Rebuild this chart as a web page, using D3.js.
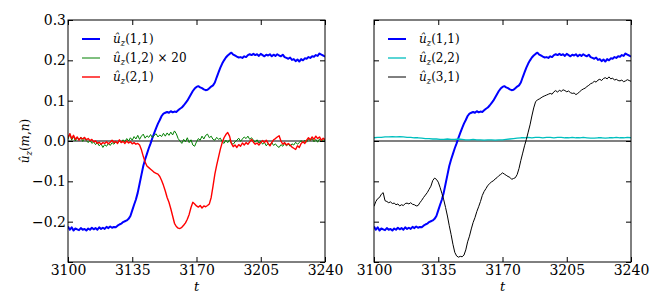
<!DOCTYPE html>
<html>
<head>
<meta charset="utf-8">
<script src="https://cdn.jsdelivr.net/npm/d3@7"></script>
<style>
  body { margin: 0; background: #fff; }
  svg { display: block; }
</style>
</head>
<body>
<div id="chart"></div>
<script>
// sampled time axis: t = tStart + i * step
const tStart = 3100;
const xTicks = [3100, 3135, 3170, 3205, 3240];
const yTicks = [-0.3, -0.2, -0.1, 0.0, 0.1, 0.2, 0.3];

// u_z(1,1), step 1
const u11 = [
  -0.212, -0.220, -0.214, -0.222, -0.217, -0.219, -0.221, -0.216, -0.220, -0.218,
  -0.222, -0.217, -0.220, -0.215, -0.219, -0.216, -0.220, -0.214, -0.218, -0.215,
  -0.218, -0.213, -0.216, -0.212, -0.215, -0.213, -0.214, -0.210, -0.207, -0.205,
  -0.201, -0.199, -0.197, -0.193, -0.186, -0.172, -0.158, -0.145, -0.128, -0.106,
  -0.084, -0.062, -0.046, -0.032, -0.018, -0.006, 0.008, 0.020, 0.032, 0.043,
  0.052, 0.062, 0.068, 0.070, 0.072, 0.070, 0.074, 0.071, 0.073, 0.072,
  0.076, 0.080, 0.083, 0.088, 0.094, 0.100, 0.108, 0.116, 0.124, 0.130,
  0.134, 0.136, 0.133, 0.131, 0.128, 0.126, 0.127, 0.131, 0.135, 0.138,
  0.145, 0.158, 0.170, 0.182, 0.192, 0.200, 0.207, 0.212, 0.216, 0.219,
  0.214, 0.212, 0.209, 0.207, 0.208, 0.206, 0.210, 0.208, 0.213, 0.215,
  0.213, 0.216, 0.213, 0.215, 0.211, 0.216, 0.213, 0.210, 0.214, 0.212,
  0.215, 0.210, 0.214, 0.211, 0.215, 0.212, 0.210, 0.214, 0.208, 0.206,
  0.204, 0.207, 0.201, 0.203, 0.198, 0.202, 0.197, 0.203, 0.200, 0.205,
  0.204, 0.208, 0.206, 0.210, 0.209, 0.213, 0.211, 0.217, 0.214, 0.212,
  0.209
];

// u_z(1,2) x 20, step 1
const u12x20 = [
  0.004, 0.018, 0.002, 0.012, 0.000, 0.009, 0.003, 0.010, -0.001, 0.006,
  0.001, -0.004, 0.002, -0.006, -0.002, -0.009, -0.004, -0.012, -0.007, -0.016,
  -0.009, -0.013, -0.006, -0.011, -0.004, -0.008, -0.002, -0.006, 0.001, -0.004,
  0.003, -0.002, 0.006, 0.000, 0.008, 0.002, 0.011, 0.005, 0.014, 0.004,
  0.012, 0.017, 0.007, 0.013, 0.009, 0.016, 0.008, 0.014, 0.018, 0.010,
  0.015, 0.011, 0.019, 0.012, 0.020, 0.014, 0.022, 0.015, 0.025, 0.018,
  0.006, 0.000, -0.006, 0.004, -0.002, 0.008, -0.004, 0.003, -0.010, -0.013,
  -0.002, 0.006, 0.002, 0.012, 0.005, 0.014, 0.017, 0.008, 0.012, 0.004,
  0.002, 0.009, 0.004, 0.007, -0.002, -0.006, 0.002, -0.004, 0.003, -0.006,
  -0.008, -0.002, 0.002, 0.007, -0.001, 0.005, 0.010, 0.006, 0.012, 0.004,
  0.008, 0.002, -0.003, 0.003, -0.005, 0.000, -0.008, -0.003, -0.012, -0.006,
  -0.010, -0.004, -0.011, -0.007, -0.013, -0.016, -0.009, -0.013, -0.006, -0.012,
  -0.008, -0.013, -0.007, -0.010, -0.003, -0.008, -0.004, 0.001, -0.005, 0.002,
  -0.003, 0.005, 0.001, 0.006, -0.002, 0.004, -0.003, 0.005, 0.000, 0.003,
  0.001
];

// u_z(2,1), step 1
const u21 = [
  0.008, 0.018, 0.006, 0.014, 0.004, 0.010, 0.002, 0.008, 0.005, 0.009,
  0.003, 0.006, 0.001, 0.004, -0.002, 0.000, -0.006, -0.003, -0.008, -0.004,
  -0.006, -0.002, -0.007, -0.003, 0.002, -0.004, -0.001, -0.006, 0.003, -0.004,
  -0.001, -0.006, 0.000, -0.005, -0.002, -0.007, -0.004, -0.008, -0.006, -0.010,
  -0.022, -0.038, -0.052, -0.062, -0.066, -0.070, -0.074, -0.078, -0.080, -0.082,
  -0.088, -0.098, -0.110, -0.124, -0.140, -0.152, -0.168, -0.186, -0.204, -0.212,
  -0.216, -0.217, -0.214, -0.209, -0.203, -0.194, -0.182, -0.165, -0.152, -0.156,
  -0.161, -0.164, -0.160, -0.166, -0.161, -0.163, -0.160, -0.156, -0.140, -0.112,
  -0.082, -0.060, -0.040, -0.020, -0.004, 0.008, 0.016, 0.021, 0.012, -0.006,
  -0.014, -0.010, -0.016, -0.009, -0.013, -0.005, -0.010, -0.004, -0.008, -0.002,
  0.004, -0.003, -0.008, -0.005, -0.010, -0.004, 0.001, -0.004, 0.002, -0.006,
  -0.012, -0.004, 0.003, 0.006, 0.010, 0.013, 0.000, -0.008, -0.004, -0.010,
  -0.006, -0.010, -0.015, -0.018, -0.021, -0.012, -0.016, -0.006, -0.002, -0.006,
  0.002, 0.008, 0.003, 0.010, 0.004, 0.012, 0.006, 0.010, 0.002, 0.007,
  0.003
];

// u_z(2,2), step 2
const u22 = [
  0.008, 0.009, 0.009, 0.010, 0.010, 0.011, 0.010, 0.011, 0.010, 0.009,
  0.009, 0.008, 0.008, 0.007, 0.006, 0.006, 0.005, 0.005, 0.004, 0.004,
  0.005, 0.004, 0.004, 0.005, 0.004, 0.003, 0.003, 0.004, 0.003, 0.003,
  0.002, 0.003, 0.003, 0.002, 0.003, 0.003, 0.004, 0.005, 0.006, 0.007,
  0.008, 0.008, 0.009, 0.008, 0.009, 0.009, 0.008, 0.009, 0.009, 0.008,
  0.009, 0.009, 0.008, 0.008, 0.009, 0.008, 0.008, 0.009, 0.008, 0.007,
  0.007, 0.008, 0.008, 0.007, 0.008, 0.008, 0.009, 0.008, 0.008, 0.009,
  0.008
];

// u_z(3,1), step 1
const u31 = [
  -0.162, -0.150, -0.143, -0.140, -0.132, -0.128, -0.148, -0.150, -0.153, -0.151,
  -0.155, -0.154, -0.158, -0.156, -0.161, -0.158, -0.160, -0.155, -0.154, -0.156,
  -0.153, -0.157, -0.158, -0.161, -0.160, -0.153, -0.147, -0.140, -0.134, -0.128,
  -0.120, -0.112, -0.098, -0.092, -0.095, -0.102, -0.115, -0.130, -0.146, -0.165,
  -0.186, -0.210, -0.232, -0.256, -0.276, -0.285, -0.288, -0.286, -0.287, -0.283,
  -0.270, -0.250, -0.236, -0.218, -0.202, -0.190, -0.175, -0.163, -0.150, -0.135,
  -0.125, -0.118, -0.110, -0.106, -0.101, -0.099, -0.094, -0.091, -0.086, -0.083,
  -0.079, -0.082, -0.085, -0.088, -0.090, -0.095, -0.093, -0.091, -0.083, -0.068,
  -0.048, -0.030, -0.012, 0.004, 0.022, 0.040, 0.062, 0.082, 0.097, 0.102,
  0.104, 0.107, 0.110, 0.112, 0.114, 0.116, 0.118, 0.116, 0.122, 0.125,
  0.121, 0.126, 0.123, 0.127, 0.125, 0.122, 0.124, 0.120, 0.118, 0.119,
  0.115, 0.118, 0.122, 0.126, 0.129, 0.131, 0.135, 0.138, 0.142, 0.144,
  0.148, 0.146, 0.151, 0.153, 0.150, 0.155, 0.157, 0.154, 0.159, 0.154,
  0.156, 0.151, 0.153, 0.150, 0.149, 0.151, 0.147, 0.149, 0.152, 0.150,
  0.148
];

const W = 664, H = 304;
const plotTop = 20, plotH = 242, plotW = 257;
const FONT = "DejaVu Serif";
const tickFont = 14, legendFont = 12;

const panels = [
  {
    left: 68, yLabels: true,
    series: [
      { name: ["(1,1)", ""], values: u11, step: 1, color: "#0000ff", width: 2 },
      { name: ["(1,2)", " × 20"], values: u12x20, step: 1, color: "#008000", width: 1 },
      { name: ["(2,1)", ""], values: u21, step: 1, color: "#ff0000", width: 1.4 }
    ]
  },
  {
    left: 374, yLabels: false,
    series: [
      { name: ["(1,1)", ""], values: u11, step: 1, color: "#0000ff", width: 2 },
      { name: ["(2,2)", ""], values: u22, step: 2, color: "#00bfbf", width: 1.3 },
      { name: ["(3,1)", ""], values: u31, step: 1, color: "#000000", width: 1 }
    ]
  }
];

const svg = d3.select("#chart").append("svg")
  .attr("width", W).attr("height", H);

// u-hat with subscript z, then argument text
function mathLabel(sel, arg, extra, size) {
  sel.append("tspan").attr("font-style", "italic").text("û");
  sel.append("tspan").attr("font-style", "italic").attr("font-size", size * 0.7)
    .attr("dy", size * 0.25).text("z");
  const rest = sel.append("tspan").attr("dy", -size * 0.25);
  arg.forEach(part => {
    rest.append("tspan").attr("font-style", part.italic ? "italic" : "normal").text(part.t);
  });
  if (extra) sel.append("tspan").text(extra);
}

const fmt = d3.format(".1f");

panels.forEach((p, pi) => {
  const x = d3.scaleLinear().domain([3100, 3240]).range([0, plotW]);
  const y = d3.scaleLinear().domain([-0.3, 0.3]).range([plotH, 0]);
  const g = svg.append("g").attr("transform", `translate(${p.left},${plotTop})`);

  g.append("clipPath").attr("id", "clip" + pi)
    .append("rect").attr("width", plotW).attr("height", plotH);

  // zero line
  g.append("line")
    .attr("x1", 0).attr("x2", plotW)
    .attr("y1", y(0)).attr("y2", y(0))
    .attr("stroke", "#808080").attr("stroke-width", 1.8);

  const line = d3.line();
  p.series.forEach(s => {
    const pts = s.values.map((v, i) => [x(tStart + i * s.step), y(v)]);
    g.append("path")
      .attr("clip-path", `url(#clip${pi})`)
      .attr("d", line(pts))
      .attr("fill", "none")
      .attr("stroke", s.color)
      .attr("stroke-width", s.width)
      .attr("stroke-linejoin", "round");
  });

  // axes with inward ticks
  const tick = 5;
  g.append("g").attr("transform", `translate(0,${plotH})`)
    .call(d3.axisBottom(x).tickValues(xTicks).tickSizeInner(-tick).tickSizeOuter(0)
      .tickPadding(3).tickFormat(d3.format("d")))
    .call(a => a.select(".domain").remove())
    .selectAll("text").attr("font-size", tickFont).attr("font-family", FONT).attr("fill", "#000");
  g.append("g")
    .call(d3.axisTop(x).tickValues(xTicks).tickSizeInner(-tick).tickSizeOuter(0).tickFormat(""))
    .call(a => a.select(".domain").remove());
  g.append("g")
    .call(d3.axisLeft(y).tickValues(yTicks).tickSizeInner(-tick).tickSizeOuter(0).tickPadding(2)
      .tickFormat(d => (p.yLabels && d > -0.25) ? fmt(d) : ""))
    .call(a => a.select(".domain").remove())
    .selectAll("text").attr("font-size", tickFont).attr("font-family", FONT).attr("fill", "#000");
  g.append("g").attr("transform", `translate(${plotW},0)`)
    .call(d3.axisRight(y).tickValues(yTicks).tickSizeInner(-tick).tickSizeOuter(0).tickFormat(""))
    .call(a => a.select(".domain").remove());
  g.selectAll(".tick line").attr("stroke", "#000").attr("stroke-width", 1);

  g.append("rect").attr("width", plotW).attr("height", plotH)
    .attr("fill", "none").attr("stroke", "#000").attr("stroke-width", 1);

  // x label
  g.append("text")
    .attr("x", plotW / 2).attr("y", plotH + 29)
    .attr("text-anchor", "middle").attr("font-size", 13).attr("font-style", "italic")
    .attr("font-family", FONT)
    .text("t");

  // legend
  p.series.forEach((s, i) => {
    const ly = 19 + i * 19;
    g.append("line")
      .attr("x1", 14).attr("x2", 32).attr("y1", ly).attr("y2", ly)
      .attr("stroke", s.color).attr("stroke-width", s.width);
    const t = g.append("text").attr("x", 45).attr("y", ly + 4)
      .attr("font-size", legendFont).attr("font-family", FONT);
    mathLabel(t, [{ t: s.name[0] }], s.name[1], legendFont);
  });
});

// y label
const yl = svg.append("text")
  .attr("transform", `translate(29,${plotTop + plotH / 2}) rotate(-90)`)
  .attr("text-anchor", "middle").attr("font-size", legendFont).attr("font-family", FONT);
mathLabel(yl, [{ t: "(" }, { t: "m", italic: true }, { t: "," }, { t: "n", italic: true }, { t: ")" }], "", legendFont);
</script>
</body>
</html>
